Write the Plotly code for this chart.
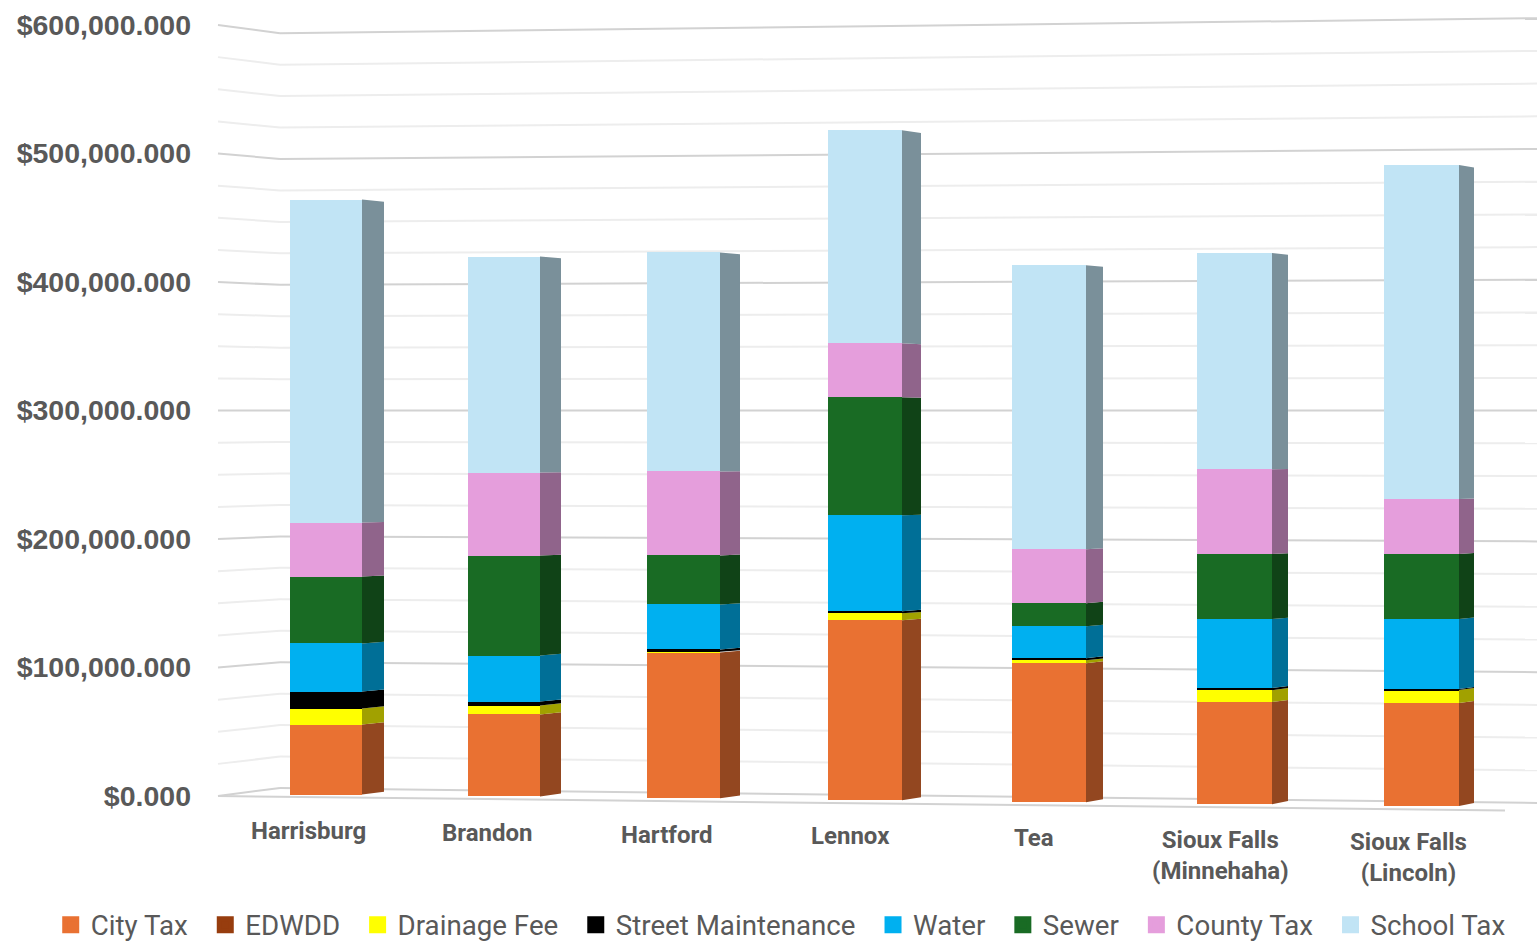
import plotly.graph_objects as go

# Residential tax burden per community, stacked bottom to top
cities = ["Harrisburg", "Brandon", "Hartford", "Lennox", "Tea",
          "Sioux Falls<br>(Minnehaha)", "Sioux Falls<br>(Lincoln)"]
city_tax = [54500, 63800, 113600, 140100, 108200, 79400, 80200]
edwdd = [0, 0, 0, 0, 0, 0, 0]
drainage_fee = [12500, 7000, 400, 5400, 2300, 9300, 10100]
street_maintenance = [13200, 3100, 1900, 1600, 1600, 1600, 800]
water = [37400, 35800, 35000, 74700, 24900, 53700, 54500]
sewer = [52100, 77800, 38100, 91800, 17900, 50600, 50600]
county_tax = [42000, 64600, 65400, 42000, 42000, 66100, 42800]
school_tax = [251400, 168100, 170400, 165800, 221000, 168100, 259900]
tick_values = [0, 100000, 200000, 300000, 400000, 500000, 600000]

series = [
    ("City Tax", city_tax, "#E97132"),
    ("EDWDD", edwdd, "#973D0E"),
    ("Drainage Fee", drainage_fee, "#FFFF00"),
    ("Street Maintenance", street_maintenance, "#000000"),
    ("Water", water, "#00B0F0"),
    ("Sewer", sewer, "#196B24"),
    ("County Tax", county_tax, "#E59EDC"),
    ("School Tax", school_tax, "#C1E4F5"),
]

# Page geometry of the perspective drawing
W, H = 1537, 945
PLOT_LEFT = 192
AXIS_ZERO_PX = 796.0
PX_PER_UNIT = 128.5 / 100000

front_left = [290, 468, 647, 828, 1012, 1197, 1384]
front_right = [362, 540, 720, 902, 1086, 1272, 1459]
side_right = [384, 561, 740, 921, 1103, 1288, 1474]
label_center = [308, 487, 667, 850, 1034, 1220, 1408]

WALL_LEFT_X, WALL_CORNER_X = 218, 280
SIDE_SQUEEZE = 0.0085
SIDE_MID_PX = 450.0
SIDE_SHADE = 0.63
GREY_TEXT = "#595959"
LEGEND_GAP = "\u00a0\u2009"


def to_value(px_y):
    """Axis value that sits at a given vertical page position."""
    return (AXIS_ZERO_PX - px_y) / PX_PER_UNIT


def floor_offset(x):
    """The floor falls away to the right, so bars start lower there."""
    return to_value(793.85 + 0.0105 * (x - WALL_LEFT_X))


def corner_value(v):
    return to_value(788.0 - 125.8 / 100000 * v)


def far_right_value(v):
    return to_value(803.0 - 130.8 / 100000 * v)


def shade(hex_colour):
    r, g, b = (int(hex_colour[i:i + 2], 16) for i in (1, 3, 5))
    return f"rgb({r * SIDE_SHADE:.0f},{g * SIDE_SHADE:.0f},{b * SIDE_SHADE:.0f})"


def receded(value):
    """Where a level on the front corner lands on the back edge of the side face."""
    mid = to_value(SIDE_MID_PX)
    return value + (mid - value) * SIDE_SQUEEZE


fig = go.Figure()

centers = [(a + b) / 2 for a, b in zip(front_left, front_right)]
widths = [b - a for a, b in zip(front_left, front_right)]
running = [floor_offset(x) for x in front_left]

for name, values, colour in series:
    bases = list(running)
    tops = [b + v for b, v in zip(bases, values)]

    fig.add_trace(go.Bar(
        x=centers, y=values, base=bases, width=widths, name=name,
        marker=dict(color=colour, line=dict(width=0)),
        legendgroup=name, showlegend=False, hoverinfo="skip",
    ))

    # Shaded right-hand faces, one closed polygon per bar
    side_x, side_y = [], []
    for i, v in enumerate(values):
        if v <= 0:
            continue
        side_x += [front_right[i], side_right[i], side_right[i], front_right[i], front_right[i], None]
        side_y += [bases[i], receded(bases[i]), receded(tops[i]), tops[i], bases[i], None]
    if side_x:
        fig.add_trace(go.Scatter(
            x=side_x, y=side_y, mode="lines", fill="toself", fillcolor=shade(colour),
            line=dict(width=0), legendgroup=name, showlegend=False, hoverinfo="skip",
        ))

    # Legend entry with a larger swatch
    fig.add_trace(go.Bar(
        x=[None], y=[None], name=name + LEGEND_GAP, legendgroup=name,
        marker=dict(color=colour, line=dict(color=colour, width=5)),
    ))

    running = tops

# Wall gridlines: a major line every 100,000 with three lighter lines between
shapes = []
MAJOR = "#D2D2D2"
MINOR = "#EDEDED"


def wall_line(x0, y0, x1, y1, colour):
    shapes.append(dict(type="line", xref="x", yref="y", x0=x0, y0=y0, x1=x1, y1=y1,
                       layer="below", line=dict(color=colour, width=2)))


for step in range(25):
    v = step * 25000
    colour = MAJOR if step % 4 == 0 else MINOR
    wall_line(WALL_LEFT_X, v, WALL_CORNER_X, corner_value(v), colour)
    wall_line(WALL_CORNER_X, corner_value(v), W, far_right_value(v), colour)

# Front edge of the floor
wall_line(WALL_LEFT_X, 0, 1505, to_value(810.5), MAJOR)

annotations = [
    dict(x=cx, y=floor_offset(cx) + to_value(AXIS_ZERO_PX + 20), xref="x", yref="y",
         text=f"<b>{label}</b>", showarrow=False, xanchor="center", yanchor="top",
         font=dict(family="Roboto", size=24, color=GREY_TEXT))
    for cx, label in zip(label_center, cities)
]

fig.update_layout(
    width=W, height=H, autosize=False,
    margin=dict(l=0, r=0, t=0, b=0, pad=0, autoexpand=False),
    paper_bgcolor="white", plot_bgcolor="white",
    barmode="overlay", bargap=0, shapes=shapes, annotations=annotations,
    xaxis=dict(visible=False, range=[PLOT_LEFT, W], domain=[PLOT_LEFT / W, 1]),
    yaxis=dict(
        range=[to_value(H), to_value(0)], tickvals=tick_values, tickformat="$,.3f",
        showgrid=False, zeroline=False, showline=False, ticks="", automargin=False,
        tickfont=dict(family="Liberation Sans", size=28.5, color=GREY_TEXT, weight="bold"),
    ),
    legend=dict(
        orientation="h", xref="container", yref="container",
        x=0.033, y=0.021, xanchor="left", yanchor="middle",
        font=dict(family="Roboto", size=27.7, color=GREY_TEXT),
        traceorder="normal", bgcolor="rgba(0,0,0,0)",
    ),
)

fig.write_html("out.html")
